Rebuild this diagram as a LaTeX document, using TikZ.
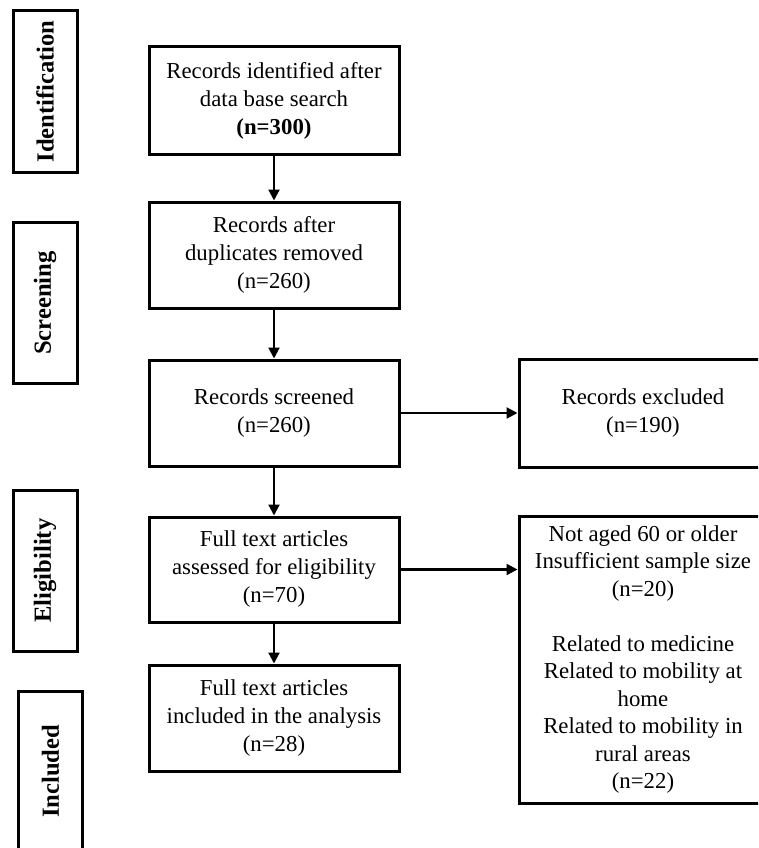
\documentclass[tikz,border=0pt]{standalone}
\usepackage{fontspec}
\setmainfont{Liberation Serif}
\usetikzlibrary{arrows.meta}
\begin{document}
\begin{tikzpicture}[x=1pt,y=-1pt,
 box/.style={draw, line width=3pt, minimum width=250pt, minimum height=106pt, align=center, font=\fontsize{22.8}{28}\selectfont, inner sep=0pt},
 sidebox/.style={box, minimum width=248pt},
 phase/.style={draw, line width=3pt, rotate=90, minimum width=161pt, minimum height=64pt, font=\fontsize{24.6}{28}\selectfont\bfseries, inner sep=0pt},
 arr/.style={line width=2.2pt, -{Triangle[length=11pt,width=11pt]}}]
\useasboundingbox (0,0) rectangle (758,848);
\clip (0,0) rectangle (758,848);
\node[phase] (id) at (45,91.5) {Identification};
\node[phase] (sc) at (45,303) {Screening};
\node[phase] (el) at (45,570.5) {Eligibility};
\node[phase] (inc) at (50.5,771.5) {Included};

\node[box, minimum height=107pt] (b1) at (274,100.5) {Records identified after\\data base search\\\textbf{(n=300)}};
\node[box] (b2) at (274,255) {Records after\\duplicates removed\\(n=260)};
\node[box] (b3) at (274,413) {Records screened\\(n=260)};
\node[box, minimum height=105pt] (b4) at (274,569.5) {Full text articles\\assessed for eligibility\\(n=70)};
\node[box] (b5) at (274,718) {Full text articles\\included in the analysis\\(n=28)};

\node[sidebox, minimum height=108pt] (r1) at (643,413) {Records excluded\\(n=190)};
\node[sidebox, minimum height=287pt, font=\fontsize{22.8}{27.5}\selectfont] (r2) at (643,659.5) {Not aged 60 or older\\Insufficient sample size\\(n=20)\\[27.5pt]Related to medicine\\Related to mobility at\\home\\Related to mobility in\\rural areas\\(n=22)};

\draw[arr] (b1) -- (b2);
\draw[arr] (b2) -- (b3);
\draw[arr] (b3) -- (b4);
\draw[arr] (b4) -- (b5);
\draw[arr] (b3) -- (r1);
\draw[arr] (b4.east) -- (b4.east -| r2.west);
\end{tikzpicture}
\end{document}
